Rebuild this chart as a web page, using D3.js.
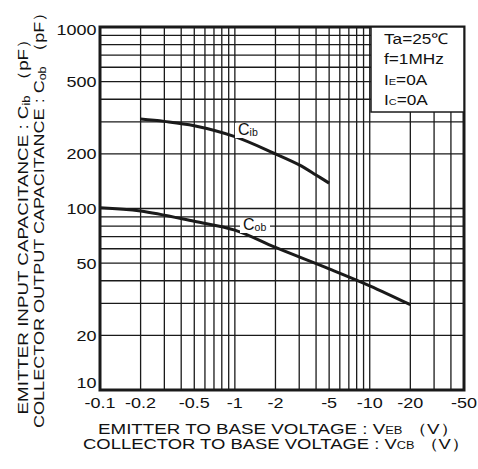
<!DOCTYPE html>
<html><head><meta charset="utf-8">
<script src="https://cdn.jsdelivr.net/npm/d3@7/dist/d3.min.js"></script>
<style>body{margin:0;background:#fff}text{font-family:"Liberation Sans",Arial,sans-serif;fill:#111}</style>
</head><body><svg id="c" width="478" height="469"></svg>
<script>
// data
const cibVoltage = [-0.2, -0.3, -0.5, -1, -2, -3, -4, -5];
const cibCap     = [311, 302, 286, 249, 200, 174, 153, 138];
const cobVoltage = [-0.1, -0.2, -0.5, -1, -2, -5, -10, -20];
const cobCap     = [101, 97, 85, 76, 61, 46.5, 37.5, 29.5];
const xTickValues = [-0.1, -0.2, -0.5, -1, -2, -5, -10, -20, -50];
const yTickValues = [10, 20, 50, 100, 200, 500, 1000];
const legendLines = [["Ta=25℃",""],["f=1MHz",""],["I","E","=0A"],["I","C","=0A"]];

const svg = d3.select("#c");
const L=100,R=464,T=27,B=390;
const x = d3.scaleLog().domain([-0.1,-50]).range([L,R]);
const y = d3.scaleLog().domain([10,1000]).range([B,T]);
const ink="#1a1a1a";

// grid
const g = svg.append("g");
g.selectAll(".vx").data(x.ticks()).join("line")
 .attr("x1",d=>x(d)).attr("x2",d=>x(d)).attr("y1",T).attr("y2",B)
 .attr("stroke",ink).attr("stroke-width",1.3);
g.selectAll(".hy").data(y.ticks()).join("line")
 .attr("y1",d=>y(d)).attr("y2",d=>y(d)).attr("x1",L).attr("x2",R)
 .attr("stroke",ink).attr("stroke-width",1.3);

// curves
const line = d3.line().x(d=>x(d[0])).y(d=>y(d[1])).curve(d3.curveCatmullRom.alpha(0.5));
const cib = cibVoltage.map((v,i)=>[v,cibCap[i]]);
const cob = cobVoltage.map((v,i)=>[v,cobCap[i]]);
[cib,cob].forEach(s=>svg.append("path").attr("d",line(s)).attr("fill","none")
  .attr("stroke",ink).attr("stroke-width",3));

// curve labels
function curveLabel(px,py,main,sub){
  svg.append("rect").attr("x",px-3).attr("y",py-12).attr("width",30).attr("height",15).attr("fill","#fff");
  const t=svg.append("text").attr("x",px).attr("y",py).attr("font-size",16);
  t.append("tspan").text(main);
  t.append("tspan").attr("font-size",10.5).attr("dy",1).text(sub);
}
curveLabel(238, 135, "C", "ib");
curveLabel(243, 230, "C", "ob");

// frame
svg.append("rect").attr("x",L).attr("y",T).attr("width",R-L).attr("height",B-T)
 .attr("fill","none").attr("stroke",ink).attr("stroke-width",3);

// legend box
svg.append("rect").attr("x",371).attr("y",T).attr("width",R-371).attr("height",112-T)
 .attr("fill","#fff").attr("stroke",ink).attr("stroke-width",1.5);
legendLines.forEach((ln,i)=>{
  const t=svg.append("text").attr("transform",`translate(384,${44+i*20.3}) scale(1.15,1)`).attr("font-size",15);
  t.append("tspan").text(ln[0]);
  if(ln.length>2){ t.append("tspan").attr("font-size",9.5).text(ln[1]); t.append("tspan").text(ln[2]); }
});

// tick labels
yTickValues.forEach(v=>{
  let yy=y(v)+5.5; if(v===1000) yy=35; if(v===10) yy=388;
  svg.append("text").attr("transform",`translate(96.5,${yy}) scale(1.2,1)`)
    .attr("text-anchor","end").attr("font-size",15).text(v);
});
xTickValues.forEach(v=>{
  svg.append("text").attr("transform",`translate(${x(v)},407.5) scale(1.2,1)`)
    .attr("text-anchor","middle").attr("font-size",15).text(v);
});

// axis titles
function title(tx,ty,rot,len,parts){
  const t=svg.append("text").attr("transform",`translate(${tx},${ty}) rotate(${rot})`)
    .attr("text-anchor","middle").attr("font-size",14.5)
    .attr("textLength",len).attr("lengthAdjust","spacingAndGlyphs");
  parts.forEach(p=>{const s=t.append("tspan").text(p[0]); if(p[1]) s.attr("font-size",p[1]); if(p[2]) s.attr("dy",p[2]);});
}
title(278.5,433.5,0,361,[["EMITTER  TO  BASE  VOLTAGE : V"],["EB",10],[" （V）",null]]);
title(276.5,448.5,0,387,[["COLLECTOR  TO  BASE  VOLTAGE : V"],["CB",10],[" （V）",null]]);
title(28,222,-90,385,[["EMITTER  INPUT  CAPACITANCE : C"],["ib",10,1.5],[" （pF）",null,-1.5]]);
title(44,215.5,-90,425,[["COLLECTOR  OUTPUT  CAPACITANCE : C"],["ob",10,1.5],[" （pF）",null,-1.5]]);
</script></body></html>
